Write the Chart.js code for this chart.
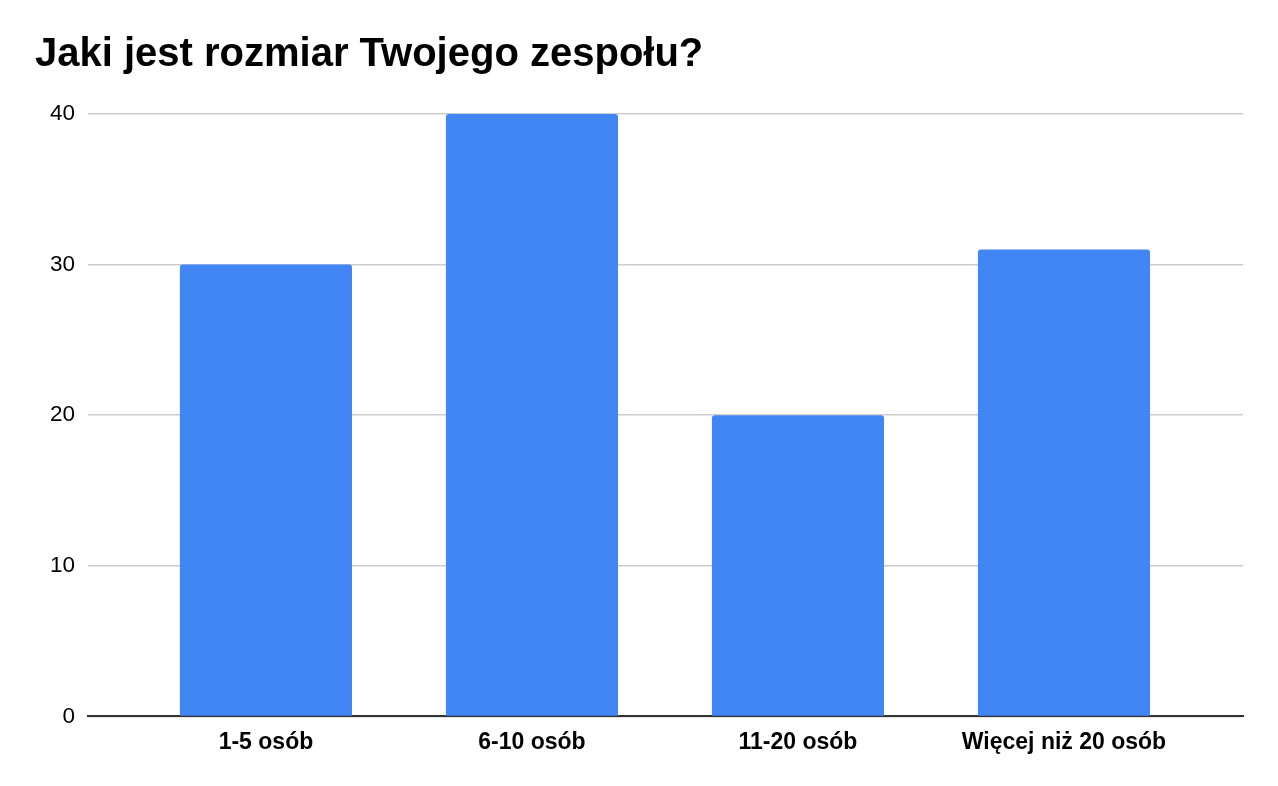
<!DOCTYPE html>
<html>
<head>
<meta charset="utf-8">
<script src="https://cdn.jsdelivr.net/npm/chart.js@4"></script>
<style>
  html, body { margin: 0; padding: 0; background: #fff; }
  #wrap { width: 1278px; height: 786px; }
</style>
</head>
<body>
<div id="wrap"><canvas id="teamChart"></canvas></div>
<script>
const categories = ['1-5 osób', '6-10 osób', '11-20 osób', 'Więcej niż 20 osób'];
const counts = [30, 40, 20, 31];
const yTicks = [0, 10, 20, 30, 40];

const ctx = document.getElementById('teamChart').getContext('2d');
new Chart(ctx, {
    type: 'bar',
    data: {
        datasets: [{
            data: counts.map((v, i) => ({ x: i, y: v })),
            backgroundColor: '#4285F4',
            borderRadius: 3,
            categoryPercentage: 1,
            barPercentage: 0.647
        }]
    },
    options: {
        responsive: true,
        maintainAspectRatio: false,
        animation: false,
        layout: { padding: { left: 35, right: 35, top: 0, bottom: 18 } },
        plugins: {
            legend: { display: false },
            tooltip: { enabled: false },
            title: {
                display: true,
                text: 'Jaki jest rozmiar Twojego zespołu?',
                align: 'start',
                color: '#000',
                font: { family: 'Liberation Sans', size: 40, weight: 'bold' },
                padding: { top: 31, bottom: 35 }
            }
        },
        scales: {
            x: {
                type: 'linear',
                min: -0.669,
                max: 3.673,
                offset: false,
                z: 1,
                afterBuildTicks: s => { s.ticks = categories.map((c, i) => ({ value: i })); },
                grid: { display: false, drawTicks: false, offset: false },
                border: { display: true, color: '#333', width: 2 },
                ticks: {
                    color: '#000',
                    padding: 12,
                    maxRotation: 0,
                    autoSkip: false,
                    font: { family: 'Liberation Sans', size: 23, weight: 'bold' },
                    callback: v => categories[v] ?? ''
                }
            },
            y: {
                min: 0,
                max: 40,
                afterBuildTicks: s => { s.ticks = yTicks.map(v => ({ value: v })); },
                afterFit: s => { s.width = 53; },
                grid: { color: '#cccccc', drawTicks: false, lineWidth: 1.5 },
                border: { display: false },
                ticks: {
                    color: '#000',
                    padding: 13,
                    font: { family: 'Liberation Sans', size: 22.5 }
                }
            }
        }
    }
});
</script>
</body>
</html>
